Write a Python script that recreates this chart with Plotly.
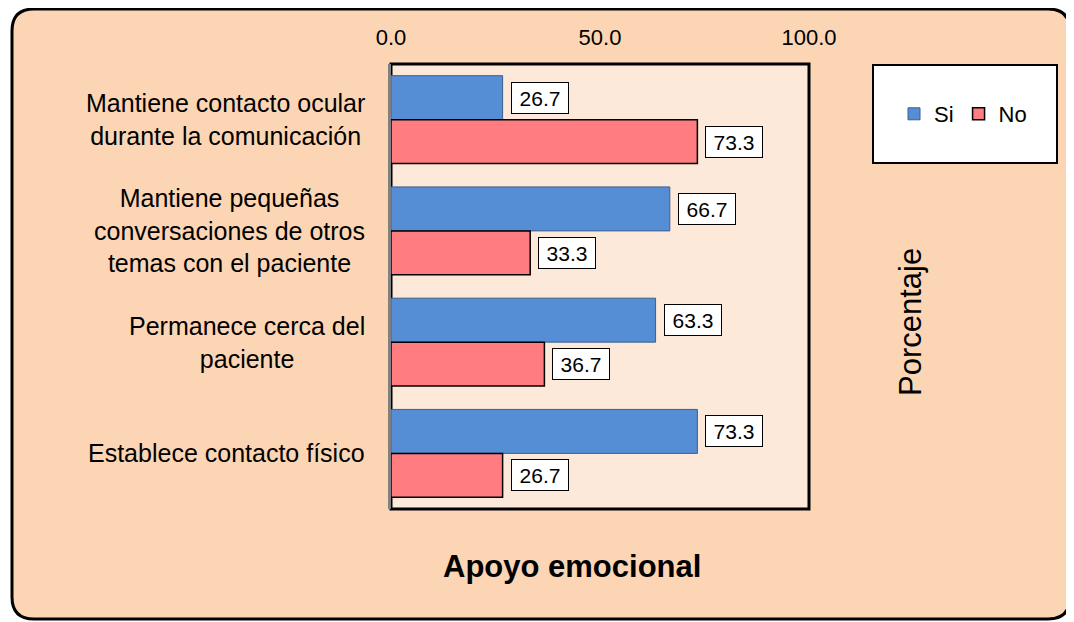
import plotly.graph_objects as go

categories = [
    "Mantiene contacto ocular<br>durante la comunicación",
    "Mantiene pequeñas<br>conversaciones de otros<br>temas con el paciente",
    "Permanece cerca del<br>paciente",
    "Establece contacto físico",
]
cat_ids = ["c1", "c2", "c3", "c4"]
si_values = [26.7, 66.7, 63.3, 73.3]
no_values = [73.3, 33.3, 36.7, 26.7]
series_names = ["Si", "No"]
tick_vals = [0, 50, 100]
tick_text = ["0.0", "50.0", "100.0"]
x_title = "Apoyo emocional"
side_title = "Porcentaje"

FONT = "Liberation Sans, Arial, sans-serif"
BLUE = "#558ED5"
RED = "#FF7C80"
PEACH = "#FCD5B5"
INNER = "#FDE9D9"

OFF = 8  # page body margin
W, H = 1074 - OFF, 622 - OFF
# plot area in page pixels
PL, PR, PT, PB = 391, 809, 64, 509
L, R, T, B = PL - OFF, PR - OFF, PT - OFF, PB - OFF


def px(x):
    return (x - PL) / (PR - PL)


def py(y):
    return (PB - y) / (PB - PT)


fig = go.Figure()
fig.add_trace(go.Bar(
    name=series_names[0], y=cat_ids, x=si_values, orientation="h",
    marker=dict(color=BLUE, line=dict(color="#3C5F8C", width=1)),
))
fig.add_trace(go.Bar(
    name=series_names[1], y=cat_ids, x=no_values, orientation="h",
    marker=dict(color=RED, line=dict(color="#000000", width=1.5)),
))

annotations = []
for values, shift in ((si_values, 22), (no_values, -22)):
    for cid, v in zip(cat_ids, values):
        annotations.append(dict(x=v, y=cid, xref="x", yref="y", text=f"{v:.1f}",
                                showarrow=False, xanchor="left", yanchor="middle",
                                xshift=8, yshift=shift, bgcolor="white",
                                bordercolor="black", borderwidth=1, borderpad=2,
                                width=52, height=26,
                                font=dict(size=21, color="black", family=FONT)))
for cid, label in zip(cat_ids, categories):
    annotations.append(dict(x=0, y=cid, xref="paper", yref="y", text=label,
                            showarrow=False, xanchor="right", yanchor="middle",
                            xshift=-24, align="center",
                            font=dict(size=25, color="black", family=FONT)))
annotations.append(dict(x=px(572), y=py(566), xref="paper", yref="paper",
                        text=f"<b>{x_title}</b>", showarrow=False,
                        xanchor="center", yanchor="middle",
                        font=dict(size=31, color="black", family=FONT)))
annotations.append(dict(x=px(910), y=py(322), xref="paper", yref="paper",
                        text=side_title, showarrow=False, textangle=-90,
                        xanchor="center", yanchor="middle",
                        font=dict(size=31, color="black", family=FONT)))

# rounded outer frame (page pixels)
x0, y0, x1, y1, r = 12, 9, 1070, 619, 22
path = (
    f"M {px(x0+r)},{py(y0)} L {px(x1-r)},{py(y0)} Q {px(x1)},{py(y0)} {px(x1)},{py(y0+r)} "
    f"L {px(x1)},{py(y1-r)} Q {px(x1)},{py(y1)} {px(x1-r)},{py(y1)} "
    f"L {px(x0+r)},{py(y1)} Q {px(x0)},{py(y1)} {px(x0)},{py(y1-r)} "
    f"L {px(x0)},{py(y0+r)} Q {px(x0)},{py(y0)} {px(x0+r)},{py(y0)} Z"
)
shapes = [
    dict(type="path", path=path, xref="paper", yref="paper", layer="below",
         fillcolor=PEACH, line=dict(color="black", width=3)),
    dict(type="rect", x0=0, x1=1, y0=0, y1=1, xref="paper", yref="paper",
         layer="below", fillcolor=INNER, line=dict(color="black", width=3)),
    dict(type="rect", x0=px(873), x1=px(1057), y0=py(163), y1=py(65),
         xref="paper", yref="paper", layer="below", fillcolor="white",
         line=dict(color="black", width=2)),
]

fig.update_layout(
    width=W, height=H, autosize=False,
    margin=dict(l=L, r=W - R, t=T, b=H - B, pad=0),
    paper_bgcolor="white", plot_bgcolor="rgba(0,0,0,0)",
    font=dict(family=FONT, color="black"),
    barmode="group", bargap=0.21, bargroupgap=0,
    showlegend=True,
    legend=dict(orientation="h", x=px(963), y=py(114), xanchor="center",
                yanchor="middle", bgcolor="rgba(0,0,0,0)",
                font=dict(size=22, family=FONT, color="black"),
                itemwidth=30, traceorder="normal"),
    xaxis=dict(side="top", range=[0, 100], tickvals=tick_vals, ticktext=tick_text,
               showgrid=False, zeroline=False, showline=False, ticks="",
               ticklabelstandoff=14,
               tickfont=dict(size=22, family=FONT, color="black"),
               fixedrange=True),
    yaxis=dict(autorange="reversed", showticklabels=False, showgrid=False,
               zeroline=False, showline=True, linecolor="#808080", linewidth=3,
               ticks="", fixedrange=True),
    shapes=shapes,
    annotations=annotations,
)

fig.write_html("out.html")
